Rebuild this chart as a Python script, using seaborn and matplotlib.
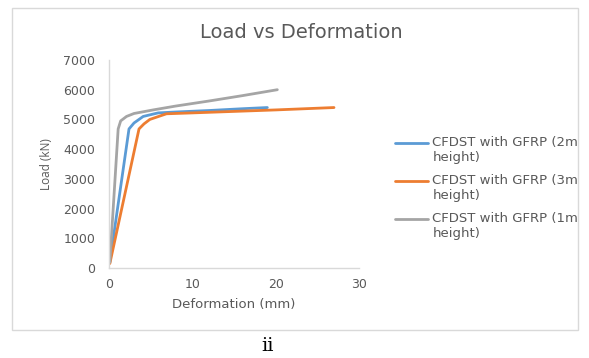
import matplotlib
matplotlib.use("Agg")
import matplotlib.pyplot as plt
import seaborn as sns
import pandas as pd
from matplotlib.patches import Rectangle
from matplotlib.legend_handler import HandlerLine2D
from matplotlib.lines import Line2D
from matplotlib.transforms import Affine2D

series_names = ["CFDST with GFRP (2m\nheight)",
                "CFDST with GFRP (3m\nheight)",
                "CFDST with GFRP (1m\nheight)"]
def_2m = [0.1, 2.4, 3.0, 4.1, 5.9, 8.0, 12.0, 16.0, 19.0]
load_2m = [200, 4680, 4880, 5100, 5220, 5250, 5300, 5360, 5400]
def_3m = [0.1, 3.6, 4.2, 4.9, 6.9, 10.0, 15.0, 20.0, 27.0]
load_3m = [150, 4680, 4850, 5000, 5190, 5220, 5270, 5320, 5400]
def_1m = [0.1, 1.1, 1.4, 2.1, 3.0, 5.3, 8.0, 12.0, 16.0, 20.2]
load_1m = [190, 4680, 4950, 5100, 5200, 5320, 5450, 5620, 5800, 6000]

colors = ["#5B9BD5", "#ED7D31", "#A5A5A5"]

frames = []
for name, xs, ys in zip(series_names, [def_2m, def_3m, def_1m], [load_2m, load_3m, load_1m]):
    frames.append(pd.DataFrame({"Deformation": xs, "Load": ys, "Series": name}))
df = pd.concat(frames, ignore_index=True)


class TopLineHandler(HandlerLine2D):
    def create_artists(self, legend, orig_handle, xdescent, ydescent, width,
                       height, fontsize, trans):
        shifted = Affine2D().translate(0, 0.55 * fontsize) + trans
        return super().create_artists(legend, orig_handle, xdescent, ydescent,
                                      width, height, fontsize, shifted)


sns.set_style("white")
plt.rcParams['font.family'] = ['DejaVu Sans']

fig = plt.figure(figsize=(5.89, 3.58), dpi=100)
ax = fig.add_axes([109/589, 1-268/358, 250/589, 208/358])

sns.lineplot(data=df, x="Deformation", y="Load", hue="Series", palette=colors,
             sort=False, estimator=None, linewidth=2.0, ax=ax)

ax.set_xlim(0, 30)
ax.set_ylim(0, 7000)
ax.set_xticks([0, 10, 20, 30])
ax.set_yticks(range(0, 7001, 1000))
tc = "#595959"
ax.tick_params(axis='both', colors=tc, labelsize=9, length=0)
ax.tick_params(axis='y', pad=10)
ax.tick_params(axis='x', pad=7)
for s in ["top", "right"]:
    ax.spines[s].set_visible(False)
for s in ["left", "bottom"]:
    ax.spines[s].set_color("#D9D9D9")
    ax.spines[s].set_linewidth(1.0)
ax.set_xlabel("Deformation (mm)", color=tc, fontsize=9.5, labelpad=5)
ax.set_ylabel("Load (kN)", color=tc, fontsize=8.5, labelpad=7, family="Open Sans")

handles, labels = ax.get_legend_handles_labels()
leg = ax.legend(handles, labels, loc="upper left",
                bbox_to_anchor=(383/589, 1-124/358),
                bbox_transform=fig.transFigure, frameon=False, fontsize=9.5,
                handlelength=2.5, labelspacing=0.75, handletextpad=0.35,
                handler_map={Line2D: TopLineHandler()})
for t in leg.get_texts():
    t.set_color(tc)

fig.text(301/589, 1-32/358, "Load vs Deformation", ha="center", va="center",
         fontsize=14, color=tc)
fig.patches.append(Rectangle((12/589, 1-330/358), 566/589, 322/358,
                             transform=fig.transFigure, fill=False,
                             edgecolor="#D9D9D9", linewidth=1.0))
fig.text(268/589, 1-346/358, "ii", ha="center", va="center", fontsize=14,
         color="black", family="DejaVu Serif")

fig.savefig("out.png", dpi=100)
